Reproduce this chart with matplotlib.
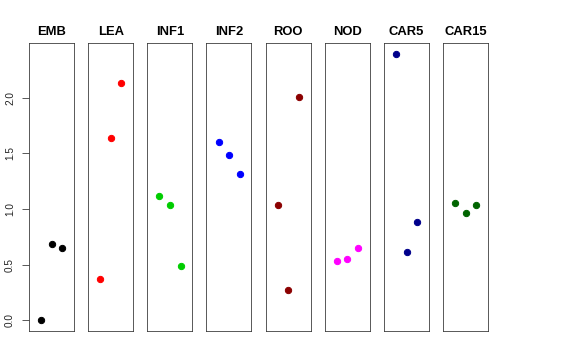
import matplotlib
matplotlib.use("Agg")
import matplotlib.pyplot as plt

plt.rcParams['font.family'] = ['Liberation Sans', 'DejaVu Sans']

tissues = ["EMB", "LEA", "INF1", "INF2", "ROO", "NOD", "CAR5", "CAR15"]
colors = ["black", "red", "#00CD00", "blue", "#8B0000", "magenta", "#00008B", "#006400"]
reps = [1, 2, 3]
emb = [0.0, 0.683, 0.653]
lea = [0.374, 1.641, 2.129]
inf1 = [1.117, 1.039, 0.488]
inf2 = [1.605, 1.488, 1.314]
roo = [1.033, 0.269, 2.003]
nod = [0.533, 0.548, 0.647]
car5 = [2.395, 0.614, 0.886]
car15 = [1.054, 0.961, 1.033]
values = [emb, lea, inf1, inf2, roo, nod, car5, car15]
yticks = [0.0, 0.5, 1.0, 1.5, 2.0]

W, H = 576, 360
fig = plt.figure(figsize=(W / 72, H / 72), dpi=72)

ymax = max(max(v) for v in values)
ymin = min(min(v) for v in values)
pad = (ymax - ymin) * 0.04

for i, (name, col, vals) in enumerate(zip(tissues, colors, values)):
    left = 29 + i * 59.15
    ax = fig.add_axes([left / W, (H - 331) / H, 45 / W, 288 / H])
    ax.plot(reps, vals, "o", color=col, ms=6.3, mec=col)
    ax.set_xlim(2 - 2.16, 2 + 2.12)
    ax.set_ylim(ymin - pad, ymax + pad)
    ax.set_title(name, fontsize=13, fontweight="bold", pad=8)
    ax.set_xticks([])
    for sp in ax.spines.values():
        sp.set_linewidth(0.8)
        sp.set_color("#333333")
    if i == 0:
        ax.set_yticks(yticks)
        ax.set_yticklabels(["%.1f" % t for t in yticks], rotation=90,
                           va="center", fontsize=10, color="#222222")
        ax.tick_params(axis="y", length=7, width=0.8, pad=7, color="#333333")
    else:
        ax.set_yticks([])

fig.savefig("out.png", dpi=72)
